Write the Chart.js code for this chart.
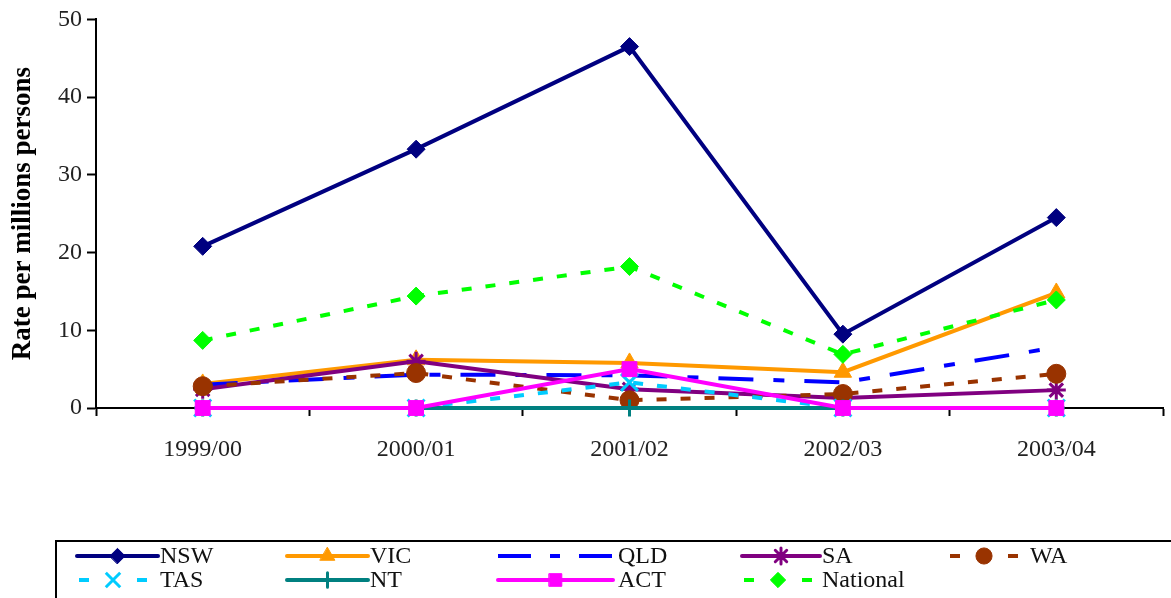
<!DOCTYPE html>
<html>
<head>
<meta charset="utf-8">
<script src="https://cdn.jsdelivr.net/npm/chart.js@4/dist/chart.umd.min.js"></script>
<style>
  html, body { margin: 0; padding: 0; background: #fff; }
  #wrap { width: 1171px; height: 598px; position: relative; }
</style>
</head>
<body>
<div id="wrap"><canvas id="chart"></canvas></div>
<script>
const categories = ['1999/00', '2000/01', '2001/02', '2002/03', '2003/04'];
const nsw = [20.8, 33.3, 46.5, 9.5, 24.5];
const vic = [3.1, 6.2, 5.8, 4.6, 14.8];
const qld = [3.0, 4.3, 4.2, 3.3, 7.8];
const sa = [2.4, 6.0, 2.4, 1.3, 2.3];
const wa = [2.8, 4.5, 1.0, 1.8, 4.4];
const tas = [0, 0, 3.3, 0, 0];
const nt = [0, 0, 0, 0, 0];
const act = [0, 0, 5.0, 0, 0];
const national = [8.7, 14.4, 18.2, 6.9, 13.9];
const yTicks = [0, 10, 20, 30, 40, 50];

const serif = '"Liberation Serif", "Times New Roman", serif';

function series(label, data, color, style, radius, dash) {
  return {
    label: label,
    data: data,
    borderColor: color,
    backgroundColor: color,
    borderWidth: 4,
    borderDash: dash || [],
    pointStyle: style,
    pointRadius: radius,
    pointBorderColor: color,
    pointBackgroundColor: color,
    pointBorderWidth: (style === 'star' || style === 'cross' || style === 'crossRot') ? 3 : 1,
    tension: 0,
    clip: false,
  };
}

const datasets = [
  series('NSW', nsw, '#000080', 'rectRot', 9),
  series('VIC', vic, '#FF9900', 'triangle', 10),
  series('QLD', qld, '#0000FF', false, 0, [35, 20, 11, 20]),
  series('SA', sa, '#800080', 'star', 9.5),
  series('WA', wa, '#993300', 'circle', 9.5, [10, 14]),
  series('TAS', tas, '#00CCFF', 'crossRot', 12, [10, 14]),
  series('NT', nt, '#008080', 'cross', 8.5),
  series('ACT', act, '#FF00FF', 'rect', 10.5),
  series('National', national, '#00FF00', 'rectRot', 9, [10, 14]),
];
// Excel draws later series on top
datasets.forEach((d, i) => { d.order = datasets.length - i; });

// legend drawn at the bottom, two rows of five columns
const legendCols = [
  {x: 77, w: 81, tx: 160},
  {x: 287, w: 81, tx: 370},
  {x: 498, w: 115, tx: 618},
  {x: 742, w: 78, tx: 822},
  {x: 948, w: 70, tx: 1030},
];
const legendRows = [556, 580];

const bottomLegend = {
  id: 'bottomLegend',
  afterDraw(chart) {
    const ctx = chart.ctx;
    ctx.save();
    ctx.strokeStyle = '#000';
    ctx.lineWidth = 2;
    ctx.strokeRect(56, 541, 1140, 80);
    chart.data.datasets.forEach((ds, i) => {
      const col = legendCols[i % 5];
      const y = legendRows[Math.floor(i / 5)];
      let x0 = col.x;
      let w = col.w;
      ctx.save();
      ctx.strokeStyle = ds.borderColor;
      ctx.lineWidth = ds.borderWidth;
      ctx.lineCap = ds.borderDash.length ? 'butt' : 'round';
      if (ds.label === 'QLD') {
        ctx.setLineDash([33, 19, 10, 19]);
      } else if (ds.borderDash.length) {
        x0 = col.x + 2;
        w = 68;
        ctx.setLineDash([10, 48]);
      }
      ctx.beginPath();
      ctx.moveTo(x0, y);
      ctx.lineTo(x0 + w, y);
      ctx.stroke();
      ctx.setLineDash([]);
      if (ds.pointStyle) {
        ctx.fillStyle = ds.pointBackgroundColor;
        ctx.strokeStyle = ds.pointBorderColor;
        ctx.lineWidth = ds.pointBorderWidth;
        Chart.helpers.drawPoint(ctx, {
          pointStyle: ds.pointStyle,
          radius: ds.pointRadius * 0.85,
          borderWidth: ds.pointBorderWidth,
          rotation: 0,
        }, x0 + w / 2, y);
      }
      ctx.restore();
      ctx.fillStyle = '#111';
      ctx.font = '24px ' + serif;
      ctx.textBaseline = 'middle';
      ctx.textAlign = 'left';
      ctx.fillText(ds.label, col.tx, y + 1);
    });
    ctx.restore();
  },
};

new Chart(document.getElementById('chart'), {
  type: 'line',
  data: {labels: categories, datasets: datasets},
  options: {
    responsive: true,
    maintainAspectRatio: false,
    animation: false,
    layout: {autoPadding: false, padding: {left: 0, top: 19, right: 8, bottom: 0}},
    plugins: {
      legend: {display: false},
      tooltip: {enabled: false},
    },
    scales: {
      x: {
        offset: true,
        afterFit: (s) => { s.height = 190; },
        grid: {
          offset: true,
          drawOnChartArea: false,
          tickLength: 8,
          color: '#000',
          tickWidth: 2,
        },
        border: {color: '#000', width: 2},
        ticks: {
          color: '#222',
          padding: 19,
          maxRotation: 0,
          font: {family: serif, size: 24},
        },
      },
      y: {
        min: 0,
        max: 50,
        afterFit: (s) => { s.width = 96; },
        afterBuildTicks: (s) => { s.ticks = yTicks.map((v) => ({value: v})); },
        grid: {
          drawOnChartArea: false,
          tickLength: 9,
          color: '#000',
          tickWidth: 2,
        },
        border: {color: '#000', width: 2},
        ticks: {
          color: '#222',
          padding: 5,
          font: {family: serif, size: 24},
        },
        title: {
          display: true,
          text: 'Rate per millions persons',
          color: '#000',
          padding: {top: 7, bottom: 0},
          font: {family: serif, size: 27, weight: 'bold'},
        },
      },
    },
  },
  plugins: [bottomLegend],
});
</script>
</body>
</html>
